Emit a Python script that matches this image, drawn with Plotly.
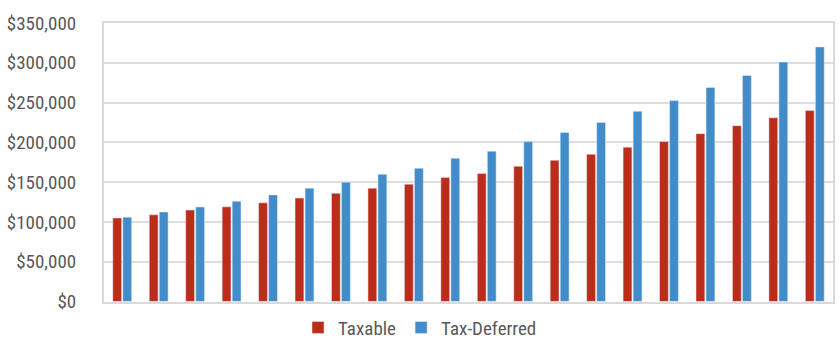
import plotly.graph_objects as go

years = list(range(1, 21))
taxable = [105000, 109000, 115000, 119000, 124000, 130000, 136000, 142500, 147500, 156000,
           161000, 170000, 177500, 185000, 194000, 201000, 211000, 221000, 231000, 240000]
tax_deferred = [106000, 112500, 118750, 126000, 134000, 142500, 150000, 160000, 167500, 180000,
                189000, 201000, 212500, 225000, 239000, 252500, 269000, 284000, 301000, 320000]
tick_vals = [0, 50000, 100000, 150000, 200000, 250000, 300000, 350000]
tick_text = ["$0", "$50,000", "$100,000", "$150,000", "$200,000", "$250,000", "$300,000", "$350,000"]

font_family = "Roboto Condensed, DejaVu Sans Condensed, sans-serif"

fig = go.Figure()
fig.add_trace(go.Bar(x=years, y=taxable, name="Taxable", marker_color="#BB2D1A"))
fig.add_trace(go.Bar(x=years, y=tax_deferred, name="Tax-Deferred", marker_color="#438CCA"))

fig.update_layout(
    width=840, height=343,
    margin=dict(l=104, r=7, t=23, b=40),
    paper_bgcolor="white", plot_bgcolor="white",
    barmode="group", bargap=0.45, bargroupgap=0.12,
    font=dict(family=font_family, color="#595959"),
    legend=dict(orientation="h", x=0.5, xanchor="center", xref="container",
                y=0.045, yanchor="middle", yref="container",
                font=dict(size=19, color="#595959"), traceorder="normal"),
    xaxis=dict(showticklabels=False, showgrid=False, showline=True, mirror=True,
               linecolor="#D9D9D9", linewidth=2, range=[0.5, 20.5], zeroline=False),
    yaxis=dict(range=[0, 350000], tickvals=tick_vals, ticktext=tick_text,
               showgrid=True, gridcolor="#DDDDDD", gridwidth=2,
               showline=True, mirror=True, linecolor="#D9D9D9", linewidth=2,
               zeroline=False, tickfont=dict(size=19, color="#595959"),
               ticks="", ticklabelstandoff=22, automargin=False),
)

fig.write_html("out.html")
